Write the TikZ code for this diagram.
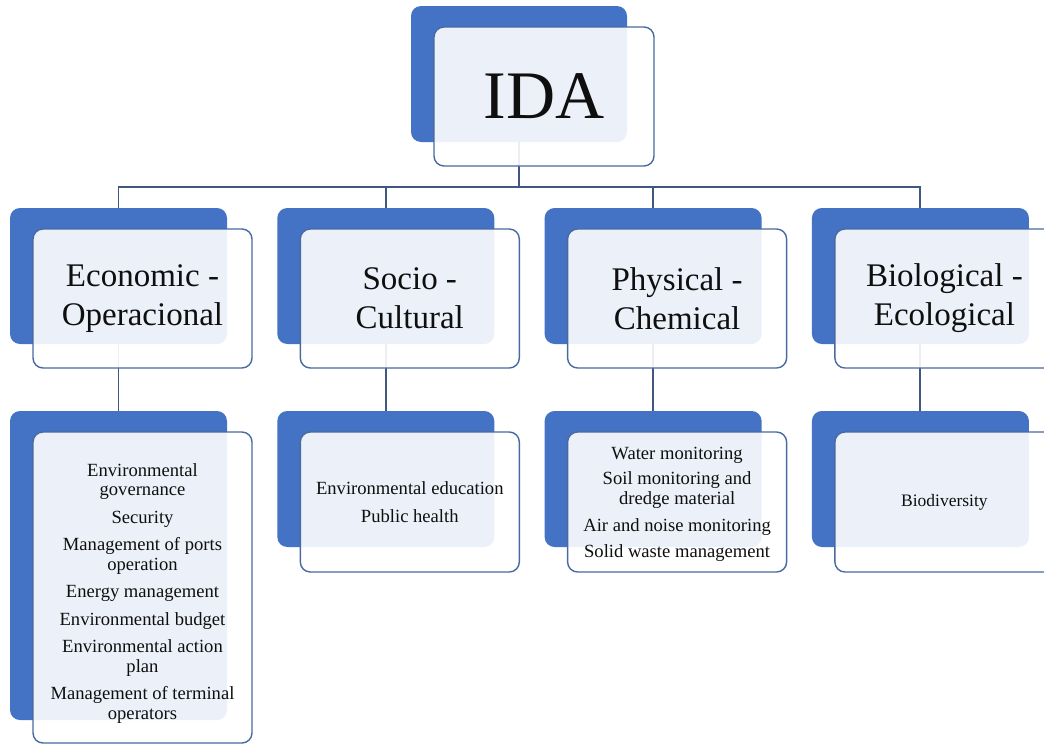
\documentclass[tikz,border=0pt]{standalone}
\usepackage{fontspec}
\setmainfont{Liberation Serif}
\definecolor{accent}{RGB}{68,114,196}
\definecolor{frame}{RGB}{72,106,160}
\definecolor{wire}{RGB}{64,88,128}
\definecolor{ink}{RGB}{15,15,15}
\pgfdeclarelayer{bg}
\pgfdeclarelayer{wires}
\pgfsetlayers{bg,wires,main}
\tikzset{
  backbox/.style={rectangle, rounded corners=10pt, fill=accent, draw=none,
    minimum width=217pt, inner sep=0pt},
  frontbox/.style={rectangle, rounded corners=10pt, fill=white, fill opacity=0.9,
    text opacity=1, draw=frame, line width=1.4pt, minimum width=219pt,
    inner sep=0pt, align=center, text=ink},
  plaintext/.style={inner sep=0pt, align=center, text=ink},
  wirepath/.style={draw=wire, line width=1.9pt},
  toptext/.style={font=\fontsize{68}{78}\selectfont},
  midtext/.style={font=\fontsize{33}{39}\selectfont},
  lowtext/.style={font=\fontsize{18.6}{19.5}\selectfont},
}
\begin{document}
\begin{tikzpicture}[x=1pt,y=-1pt]
\clip (0,0) rectangle (1044,744);
\begin{pgfonlayer}{bg}
  \fill[white] (0,0) rectangle (1044,744);
\end{pgfonlayer}

% root
\node[backbox, minimum width=216pt, minimum height=136pt] (idaB) at (519,74) {};
\node[frontbox, minimum width=220pt, minimum height=139pt, toptext] (ida) at (544,96.5) {IDA};

% second level
\node[backbox, minimum height=136pt] (ecoB) at (118.5,276) {};
\node[frontbox, minimum height=139pt, midtext] (eco) at (142.5,298.5) {Economic -\\Operacional};
\node[backbox, minimum height=136pt] (socB) at (385.8,276) {};
\node[frontbox, minimum height=139pt, midtext] (soc) at (409.8,298.5) {Socio -\\Cultural};
\node[backbox, minimum height=136pt] (phyB) at (653.1,276) {};
\node[frontbox, minimum height=139pt, midtext] (phy) at (677.1,298.5) {Physical -\\Chemical};
\node[backbox, minimum height=136pt] (bioB) at (920.4,276) {};
\node[frontbox, minimum height=139pt, midtext] (bio) at (944.4,298.5) {Biological -\\Ecological};

% third level
\node[backbox, minimum height=309pt] (ecoLB) at (118.5,565.5) {};
\node[frontbox, minimum height=311pt] (ecoL) at (142.5,587.5) {};
\node[plaintext, lowtext] (ecoLtext) at (142.5,593.5) {Environmental\\governance\\[8pt]
  Security\\[8pt]
  Management of ports\\operation\\[8pt]
  Energy management\\[8pt]
  Environmental budget\\[8pt]
  Environmental action\\plan\\[8pt]
  Management of terminal\\operators};
\node[backbox, minimum height=136pt] (socLB) at (385.8,479) {};
\node[frontbox, minimum height=140pt, lowtext] (socL) at (409.8,502) {Environmental education\\[8pt]
  Public health};
\node[backbox, minimum height=136pt] (phyLB) at (653.1,479) {};
\node[frontbox, minimum height=140pt] (phyL) at (677.1,502) {};
\node[plaintext, lowtext] (phyLtext) at (677.1,504) {Water monitoring\\[6pt]
  Soil monitoring and\\dredge material\\[8pt]
  Air and noise monitoring\\[6pt]
  Solid waste management};
\node[backbox, minimum height=136pt] (bioLB) at (920.4,479) {};
\node[frontbox, minimum height=140pt, font=\fontsize{17.5}{20}\selectfont] (bioL) at (944.4,502) {Biodiversity};

% connectors
\begin{pgfonlayer}{wires}
  \coordinate (hub) at (519,187);
  \draw[wirepath] (idaB.south) -- (hub) -| (ecoB.north);
  \draw[wirepath] (hub) -| (socB.north);
  \draw[wirepath] (hub) -| (phyB.north);
  \draw[wirepath] (hub) -| (bioB.north);
  \draw[wirepath] (ecoB.south) -- (ecoLB.north);
  \draw[wirepath] (socB.south) -- (socLB.north);
  \draw[wirepath] (phyB.south) -- (phyLB.north);
  \draw[wirepath] (bioB.south) -- (bioLB.north);
\end{pgfonlayer}
\end{tikzpicture}
\end{document}
